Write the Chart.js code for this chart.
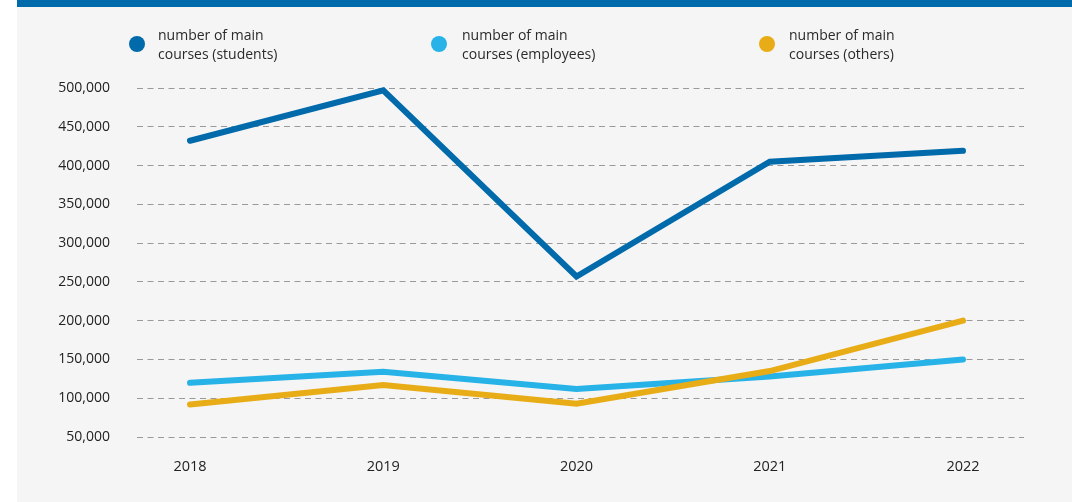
<!DOCTYPE html>
<html>
<head>
<meta charset="utf-8">
<script src="https://cdn.jsdelivr.net/npm/chart.js@4.4.1/dist/chart.umd.min.js"></script>
<style>
  html, body { margin: 0; padding: 0; background: #ffffff; }
  #wrap { position: relative; width: 1072px; height: 502px; overflow: hidden; }
  #panel { position: absolute; left: 17px; top: 0; width: 1055px; height: 502px; background: #f5f5f5; }
  #bar { position: absolute; left: 17px; top: 0; width: 1055px; height: 7px; background: #006aab; }
  #c { position: absolute; left: 0; top: 0; }
  .leg { position: absolute; font-family: "Open Sans", sans-serif; font-size: 14px; line-height: 18.5px; color: #2a2a2a; white-space: nowrap; }
  .dot { position: absolute; width: 16px; height: 16px; border-radius: 50%; }
</style>
</head>
<body>
<div id="wrap">
  <div id="panel"></div>
  <div id="bar"></div>
  <canvas id="c" width="1072" height="502"></canvas>
  <div class="dot" style="left:129px; top:36px; background:#006aab"></div>
  <div class="leg" style="left:158px; top:26px">number of main<br>courses (students)</div>
  <div class="dot" style="left:431px; top:36px; background:#27b2e8"></div>
  <div class="leg" style="left:462px; top:26px">number of main<br>courses (employees)</div>
  <div class="dot" style="left:759px; top:36px; background:#e8ac17"></div>
  <div class="leg" style="left:789px; top:26px">number of main<br>courses (others)</div>
</div>
<script>
const years = ['2018', '2019', '2020', '2021', '2022'];
const students = [432000, 497000, 257000, 405000, 419000];
const employees = [120000, 134000, 112000, 128000, 150000];
const others = [92000, 117000, 93000, 135000, 200000];
const yTicks = [50000, 100000, 150000, 200000, 250000, 300000, 350000, 400000, 450000, 500000];

function pts(vals) { return years.map((y, i) => ({ x: Number(y), y: vals[i] })); }

function ds(label, vals, color) {
  return {
    label, data: pts(vals), borderColor: color, backgroundColor: color,
    borderWidth: 6, pointRadius: 0, tension: 0, clip: false,
    borderCapStyle: 'round', borderJoinStyle: 'miter'
  };
}

new Chart(document.getElementById('c'), {
  type: 'line',
  data: {
    datasets: [
      ds('number of main courses (others)', others, '#e8ac17'),
      ds('number of main courses (employees)', employees, '#27b2e8'),
      ds('number of main courses (students)', students, '#006aab')
    ]
  },
  options: {
    responsive: false,
    animation: false,
    devicePixelRatio: 1,
    layout: { padding: { top: 88, right: 48, left: 0, bottom: 0 } },
    plugins: { legend: { display: false }, tooltip: { enabled: false } },
    scales: {
      x: {
        type: 'linear',
        min: 2017.7257,
        max: 2022.3157,
        grid: { display: false, drawTicks: false },
        border: { display: false },
        afterBuildTicks: (s) => { s.ticks = years.map(y => ({ value: Number(y) })); },
        afterFit: (s) => { s.height = 65; },
        ticks: {
          padding: 21,
          color: '#222',
          font: { family: '"Open Sans", sans-serif', size: 14.5 },
          callback: (v) => String(v),
          maxRotation: 0
        }
      },
      y: {
        min: 50000,
        max: 500000,
        grid: { color: '#9a9a9a', lineWidth: 1, drawTicks: false },
        border: { display: false, dash: [6, 4.5] },
        afterBuildTicks: (s) => { s.ticks = yTicks.map(v => ({ value: v })); },
        afterFit: (s) => { s.width = 137; },
        ticks: {
          padding: 27,
          color: '#222',
          font: { family: '"Open Sans", sans-serif', size: 14 },
          callback: (v) => Number(v).toLocaleString('en-US')
        }
      }
    }
  }
});
</script>
</body>
</html>
